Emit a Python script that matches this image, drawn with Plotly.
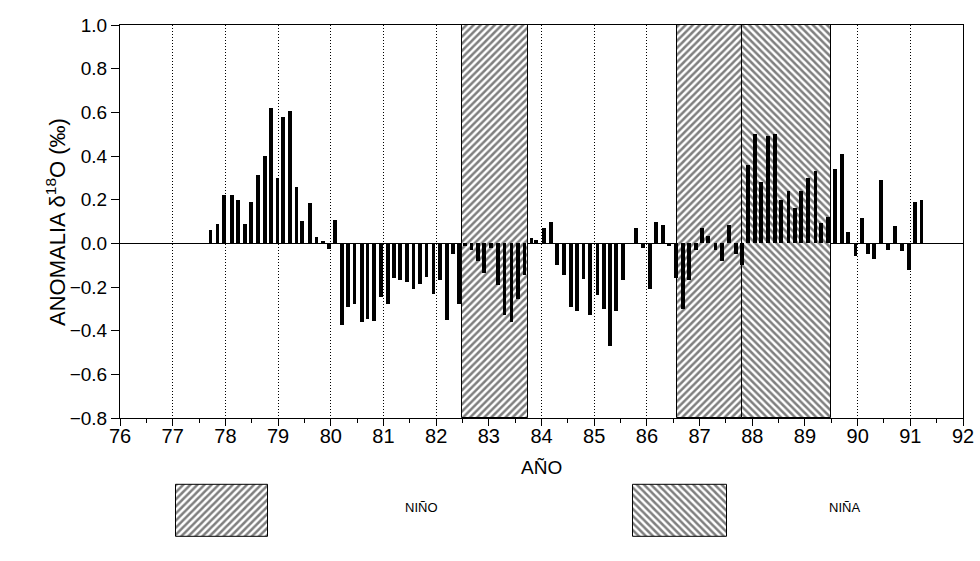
import plotly.graph_objects as go

# ---- data ----
years = [77.72, 77.85, 77.98, 78.12, 78.24, 78.37, 78.49, 78.62, 78.75, 78.86,
         78.99, 79.10, 79.23, 79.35, 79.46, 79.60, 79.73, 79.85, 79.97, 80.08,
         80.21, 80.33, 80.45, 80.59, 80.70, 80.82, 80.95, 81.08, 81.20, 81.32,
         81.45, 81.57, 81.69, 81.82, 81.95, 82.07, 82.20, 82.32, 82.43, 82.55,
         82.67, 82.80, 82.91, 83.04, 83.17, 83.30, 83.43, 83.56, 83.68, 83.81,
         83.90, 84.05, 84.18, 84.30, 84.43, 84.56, 84.67, 84.80, 84.92, 85.06,
         85.18, 85.30, 85.42, 85.55, 85.80, 85.92, 86.06, 86.17, 86.31, 86.42,
         86.55, 86.68, 86.80, 86.93, 87.05, 87.16, 87.30, 87.43, 87.56, 87.69,
         87.80, 87.92, 88.05, 88.16, 88.30, 88.43, 88.55, 88.69, 88.81, 88.93,
         89.06, 89.20, 89.31, 89.44, 89.57, 89.70, 89.82, 89.96, 90.08, 90.20,
         90.31, 90.45, 90.58, 90.71, 90.84, 90.97, 91.09, 91.21]
anomaly = [0.06, 0.09, 0.22, 0.22, 0.20, 0.087, 0.19, 0.315, 0.40, 0.62,
           0.30, 0.58, 0.605, 0.257, 0.104, 0.187, 0.03, 0.012, -0.026, 0.105,
           -0.375, -0.29, -0.28, -0.36, -0.345, -0.355, -0.245, -0.28, -0.16, -0.168,
           -0.177, -0.21, -0.188, -0.156, -0.23, -0.17, -0.35, -0.05, -0.28, -0.01,
           -0.03, -0.08, -0.135, -0.02, -0.19, -0.33, -0.36, -0.257, -0.147, 0.026,
           0.015, 0.07, 0.10, -0.10, -0.147, -0.29, -0.31, -0.165, -0.33, -0.235,
           -0.30, -0.47, -0.31, -0.17, 0.07, -0.02, -0.21, 0.10, 0.085, -0.012,
           -0.16, -0.30, -0.17, -0.03, 0.07, 0.035, -0.03, -0.08, 0.085, -0.05,
           -0.10, 0.36, 0.50, 0.28, 0.49, 0.50, 0.20, 0.24, 0.16, 0.24,
           0.30, 0.33, 0.095, 0.12, 0.34, 0.41, 0.05, -0.06, 0.115, -0.05,
           -0.07, 0.29, -0.03, 0.08, -0.035, -0.12, 0.19, 0.20]

nino_periods = [(82.5, 83.75), (86.58, 87.8)]
nina_periods = [(87.8, 89.5)]

x_ticks = list(range(76, 93))
y_ticks = [1.0, 0.8, 0.6, 0.4, 0.2, 0.0, -0.2, -0.4, -0.6, -0.8]

W, H = 980, 561
FONT = "Liberation Sans"

# plot area in pixels
L, R, T, B = 120, 963, 25, 418
LEG_FRAC = 0.2  # bottom strip used for the legend boxes

fig = go.Figure()

def hatch_marker(shape):
    return dict(color="white", line=dict(color="black", width=1),
                pattern=dict(shape=shape, fgcolor="black", bgcolor="white",
                             size=5, solidity=0.5))

for shape, periods in (("/", nino_periods), ("\\", nina_periods)):
    fig.add_trace(go.Bar(
        x=[(a + b) / 2 for a, b in periods],
        y=[y_ticks[0] - y_ticks[-1]] * len(periods),
        base=[y_ticks[-1]] * len(periods),
        width=[b - a for a, b in periods],
        marker=hatch_marker(shape),
        hoverinfo="skip", showlegend=False))

fig.add_trace(go.Bar(x=years, y=anomaly, width=0.07,
                     marker=dict(color="black", line=dict(width=0)),
                     showlegend=False))

# legend boxes on a pixel-coordinate axis in the bottom strip
legend_items = [("NIÑO", "/", 176, 268, 421), ("NIÑA", "\\", 633, 727, 862)]
for label, shape, x0, x1, tx in legend_items:
    fig.add_trace(go.Bar(x=[(x0 + x1) / 2], y=[52], base=[485], width=[x1 - x0],
                         marker=hatch_marker(shape), xaxis="x2", yaxis="y2",
                         hoverinfo="skip", showlegend=False))
    fig.add_annotation(text=label, x=tx / W, y=1 - 517 / H, xref="paper", yref="paper",
                       showarrow=False, font=dict(family=FONT, size=13, color="black"))

fig.update_layout(
    width=W, height=H, autosize=False,
    margin=dict(l=0, r=0, t=0, b=0),
    paper_bgcolor="white", plot_bgcolor="rgba(0,0,0,0)",
    barmode="overlay", bargap=0,
    font=dict(family=FONT, color="black"),
    xaxis=dict(domain=[L / W, R / W], range=[76, 92], tickvals=x_ticks,
               ticks="outside", ticklen=7, tickwidth=1, tickcolor="black",
               ticklabelstandoff=-7,
               minor=dict(ticks="outside", dtick=0.5, tick0=76, ticklen=4,
                          tickcolor="black", showgrid=False),
               showgrid=True, gridcolor="black", griddash="1px,2px", gridwidth=1,
               showline=True, linecolor="black", linewidth=1, mirror=True,
               zeroline=False, tickfont=dict(size=20, family=FONT),
               automargin=False, anchor="y"),
    yaxis=dict(domain=[1 - B / H, 1 - T / H], range=[-0.8, 1.0], tickvals=y_ticks,
               tickformat=".1f", ticks="outside", ticklen=8, tickcolor="black",
               showgrid=False, showline=True, linecolor="black", linewidth=1,
               mirror=True, zeroline=True, zerolinecolor="black", zerolinewidth=1,
               tickfont=dict(size=19, family=FONT), automargin=False, anchor="x"),
    xaxis2=dict(domain=[0, 1], range=[0, W], visible=False, anchor="y2"),
    yaxis2=dict(domain=[0, LEG_FRAC], range=[H, H * (1 - LEG_FRAC)], visible=False,
                anchor="x2"),
)

fig.add_annotation(text="ANOMALIA δ<sup>18</sup>O (‰)", textangle=-90,
                   x=40 / W, y=1 - 222 / H, xref="paper", yref="paper",
                   showarrow=False, font=dict(family=FONT, size=22, color="black"))
fig.add_annotation(text="AÑO", x=541 / W, y=1 - 480 / H, xref="paper", yref="paper",
                   showarrow=False, font=dict(family=FONT, size=19, color="black"))

fig.write_html("out.html")
